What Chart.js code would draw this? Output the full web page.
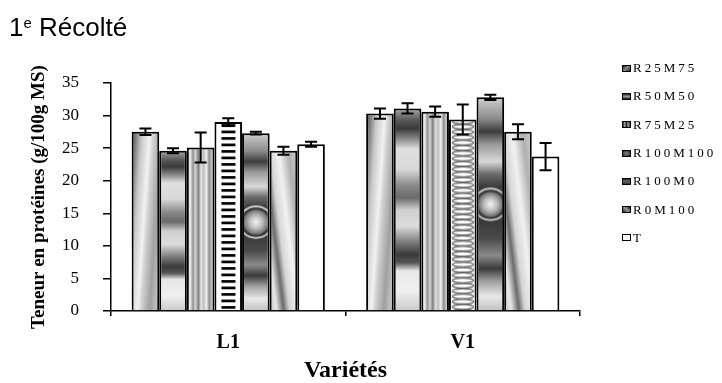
<!DOCTYPE html>
<html>
<head>
<meta charset="utf-8">
<script src="https://cdn.jsdelivr.net/npm/chart.js@4/dist/chart.umd.min.js"></script>
<style>
  body { margin: 0; background: #fff; }
  #wrap { position: relative; width: 722px; height: 383px; overflow: hidden; }
  #title { position: absolute; left: 9px; top: 14px; font-family: 'Liberation Sans', Arial, sans-serif; font-size: 26px; line-height: 1; color: #000; }
  #title .sup { font-size: 15px; position: relative; top: -8px; }
  #legend { position: absolute; left: 622px; top: 54px; font-family: 'Liberation Serif', 'Times New Roman', serif; font-size: 13px; color: #000; }
  #legend .row { height: 28.3px; display: flex; align-items: center; white-space: nowrap; }
  #legend .sw { width: 7px; height: 5px; border: 1.5px solid #000; margin-right: 2px; }
  #legend .lab { letter-spacing: 3px; }
</style>
</head>
<body>
<div id="wrap">
  <canvas id="chart"></canvas>
  <div id="title">1<span class="sup">e</span> Récolté</div>
  <div id="legend"></div>
</div>
<script>
// values
const categories = ['L1', 'V1'];
const seriesNames = ['R25M75', 'R50M50', 'R75M25', 'R100M100', 'R100M0', 'R0M100', 'T'];
const r25m75 = [27.5, 30.3];
const r50m50 = [24.6, 31.1];
const r75m25 = [25.1, 30.6];
const r100m100 = [29.0, 29.4];
const r100m0 = [27.3, 32.8];
const r0m100 = [24.6, 27.5];
const temoin = [25.6, 23.7];
// standard errors (half length of the bars)
const errR25M75 = [0.5, 0.8];
const errR50M50 = [0.4, 0.8];
const errR75M25 = [2.3, 0.8];
const errR100M100 = [0.6, 2.3];
const errR100M0 = [0.2, 0.4];
const errR0M100 = [0.6, 1.15];
const errT = [0.4, 2.1];
const yTicks = [0, 5, 10, 15, 20, 25, 30, 35];

const CAT_PCT = 0.824;

// gradient bands over a rect, direction given by angle
function bands(g, w, h, angleDeg, stops) {
  const a = angleDeg * Math.PI / 180;
  const span = Math.abs(Math.cos(a)) * w + Math.abs(Math.sin(a)) * h;
  const dx = Math.cos(a) * span / 2, dy = Math.sin(a) * span / 2;
  const grad = g.createLinearGradient(w / 2 - dx, h / 2 - dy, w / 2 + dx, h / 2 + dy);
  stops.forEach(s => grad.addColorStop(s[0], s[1]));
  g.fillStyle = grad;
  g.fillRect(0, 0, w, h);
}

function paintTexture(g, ds, idx, w, h) {
  if (ds === 0) {
    bands(g, w, h, 4, [[0, '#3c3c3c'], [0.1, '#7a7a7a'], [0.25, '#c8c8c8'], [0.45, '#f2f2f2'], [0.55, '#cfcfcf'], [0.75, '#a0a0a0'], [0.9, '#c0c0c0'], [1, '#888']]);
  } else if (ds === 1) {
    bands(g, w, h, 90, [[0, '#a8a8a8'], [0.06, '#555'], [0.1, '#3a3a3a'], [0.16, '#9a9a9a'], [0.2, '#e0e0e0'], [0.3, '#d8d8d8'], [0.38, '#8a8a8a'], [0.44, '#6a6a6a'], [0.5, '#cfcfcf'], [0.58, '#dcdcdc'], [0.66, '#7a7a7a'], [0.72, '#3a3a3a'], [0.76, '#555'], [0.8, '#e8e8e8'], [0.9, '#f0f0f0'], [1, '#c8c8c8']]);
  } else if (ds === 2) {
    bands(g, w, h, 0, [[0, '#cfcfcf'], [0.12, '#f0f0f0'], [0.22, '#8c8c8c'], [0.3, '#d8d8d8'], [0.42, '#7a7a7a'], [0.5, '#e8e8e8'], [0.6, '#bcbcbc'], [0.7, '#f2f2f2'], [0.8, '#8a8a8a'], [0.9, '#d0d0d0'], [1, '#a0a0a0']]);
  } else if (ds === 3) {
    g.fillStyle = '#fff';
    g.fillRect(0, 0, w, h);
    if (idx === 0) {
      g.fillStyle = '#000';
      for (let y = 2; y < h; y += 6.5) g.fillRect(w / 2 - 7, y, 14, 2.7);
    } else {
      g.strokeStyle = '#666';
      g.lineWidth = 1.3;
      for (let y = 2; y < h + 3; y += 5.3) {
        g.beginPath();
        g.ellipse(w / 2, y, w * 0.38, 2.3, 0, 0, Math.PI * 2);
        g.stroke();
      }
    }
  } else if (ds === 4) {
    bands(g, w, h, 90, [[0, '#d0d0d0'], [0.1, '#8a8a8a'], [0.16, '#3c3c3c'], [0.22, '#9a9a9a'], [0.3, '#d8d8d8'], [0.36, '#6a6a6a'], [0.42, '#3a3a3a'], [0.58, '#3a3a3a'], [0.66, '#4a4a4a'], [0.74, '#8a8a8a'], [0.8, '#3a3a3a'], [0.86, '#a0a0a0'], [0.93, '#e8e8e8'], [1, '#c0c0c0']]);
    const cx = w / 2, cy = h / 2, r = w * 0.45;
    g.strokeStyle = 'rgba(235,235,235,0.8)';
    g.lineWidth = 2;
    g.beginPath();
    g.ellipse(cx, cy, w * 0.6, r * 1.25, 0, 0, Math.PI * 2);
    g.stroke();
    const rg = g.createRadialGradient(cx, cy, 0, cx, cy, r);
    rg.addColorStop(0, '#f5f5f5');
    rg.addColorStop(0.55, '#b8b8b8');
    rg.addColorStop(1, '#6a6a6a');
    g.fillStyle = rg;
    g.beginPath();
    g.arc(cx, cy, r, 0, Math.PI * 2);
    g.fill();
  } else if (ds === 5) {
    bands(g, w, h, -7, [[0, '#bdbdbd'], [0.15, '#e8e8e8'], [0.3, '#6a6a6a'], [0.42, '#d5d5d5'], [0.6, '#f2f2f2'], [0.8, '#b0b0b0'], [1, '#cfcfcf']]);
  } else {
    g.fillStyle = '#fff';
    g.fillRect(0, 0, w, h);
  }
}

function barFill(c) {
  if (c.type !== 'data') return '#999';
  const chart = c.chart, xs = chart.scales.x, ys = chart.scales.y;
  if (!xs || !ys || !chart.chartArea) return '#999';
  const n = chart.data.datasets.length;
  const groupW = xs.width / categories.length * CAT_PCT;
  const barW = groupW / n;
  const left = xs.getPixelForValue(c.dataIndex) - groupW / 2 + c.datasetIndex * barW;
  const top = ys.getPixelForValue(c.raw);
  const bottom = ys.getPixelForValue(0);
  const w = Math.max(1, Math.ceil(barW)), h = Math.max(1, Math.ceil(bottom - top));
  const cv = document.createElement('canvas');
  cv.width = w; cv.height = h;
  paintTexture(cv.getContext('2d'), c.datasetIndex, c.dataIndex, w, h);
  const p = chart.ctx.createPattern(cv, 'no-repeat');
  p.setTransform(new DOMMatrix([1, 0, 0, 1, left, top]));
  return p;
}

const errorBars = {
  id: 'errorBars',
  afterDatasetsDraw(chart) {
    const ctx = chart.ctx, ys = chart.scales.y;
    ctx.save();
    ctx.strokeStyle = '#000';
    ctx.lineWidth = 2;
    chart.data.datasets.forEach((ds, i) => {
      chart.getDatasetMeta(i).data.forEach((bar, j) => {
        const v = ds.data[j], e = ds.errors[j];
        const yHi = ys.getPixelForValue(v + e), yLo = ys.getPixelForValue(v - e);
        ctx.beginPath();
        ctx.moveTo(bar.x, yHi); ctx.lineTo(bar.x, yLo);
        ctx.moveTo(bar.x - 6, yHi); ctx.lineTo(bar.x + 6, yHi);
        ctx.moveTo(bar.x - 6, yLo); ctx.lineTo(bar.x + 6, yLo);
        ctx.stroke();
      });
    });
    ctx.restore();
  }
};

const values = [r25m75, r50m50, r75m25, r100m100, r100m0, r0m100, temoin];
const errors = [errR25M75, errR50M50, errR75M25, errR100M100, errR100M0, errR0M100, errT];

const datasets = seriesNames.map((name, i) => ({
  label: name,
  data: values[i],
  errors: errors[i],
  backgroundColor: barFill,
  borderColor: '#000',
  borderWidth: 2,
  categoryPercentage: CAT_PCT,
  barPercentage: 1
}));

new Chart(document.getElementById('chart'), {
  type: 'bar',
  data: { labels: categories, datasets: datasets },
  options: {
    responsive: true,
    maintainAspectRatio: false,
    animation: false,
    events: [],
    layout: { padding: { top: 83, right: 142, bottom: 0, left: 0 } },
    plugins: { legend: { display: false }, tooltip: { enabled: false } },
    scales: {
      x: {
        afterFit: s => { s.height = 72; },
        grid: { drawOnChartArea: false, drawTicks: true, tickLength: 5, color: '#000', lineWidth: 1.5 },
        border: { color: '#000', width: 1.5 },
        ticks: { color: '#000', padding: 15, font: { family: 'Liberation Serif', size: 20, weight: 'bold' } },
        title: { display: true, text: 'Variétés', color: '#000', padding: { top: 0, bottom: 0 },
                 font: { family: 'Liberation Serif', size: 24, weight: 'bold', lineHeight: 1 } }
      },
      y: {
        min: 0, max: 35,
        afterFit: s => { s.width = 111; },
        afterBuildTicks: s => { s.ticks = yTicks.map(v => ({ value: v })); },
        grid: { drawOnChartArea: false, drawTicks: true, tickLength: 8, color: '#000', lineWidth: 1.5 },
        border: { color: '#000', width: 1.5 },
        ticks: { color: '#000', padding: 24, font: { family: 'Liberation Serif', size: 17 } },
        title: { display: true, text: 'Teneur en protéines (g/100g MS)', color: '#000', padding: { top: 28, bottom: 0 },
                 font: { family: 'Liberation Serif', size: 19, weight: 'bold', lineHeight: 1.2 } }
      }
    }
  },
  plugins: [errorBars]
});

// legend as html text
const swatches = [
  'linear-gradient(135deg,#222 0%,#888 50%,#222 100%)',
  'linear-gradient(180deg,#222 0%,#999 50%,#222 100%)',
  'linear-gradient(90deg,#222 0%,#aaa 25%,#222 50%,#aaa 75%,#222 100%)',
  'radial-gradient(#888,#222)',
  'linear-gradient(180deg,#333,#666,#333)',
  'linear-gradient(45deg,#222 0%,#999 50%,#222 100%)',
  '#fff'
];
const legend = document.getElementById('legend');
seriesNames.forEach((name, i) => {
  const row = document.createElement('div');
  row.className = 'row';
  row.innerHTML = '<div class="sw" style="background:' + swatches[i] + '"></div><span class="lab">' + name + '</span>';
  legend.appendChild(row);
});
</script>
</body>
</html>
